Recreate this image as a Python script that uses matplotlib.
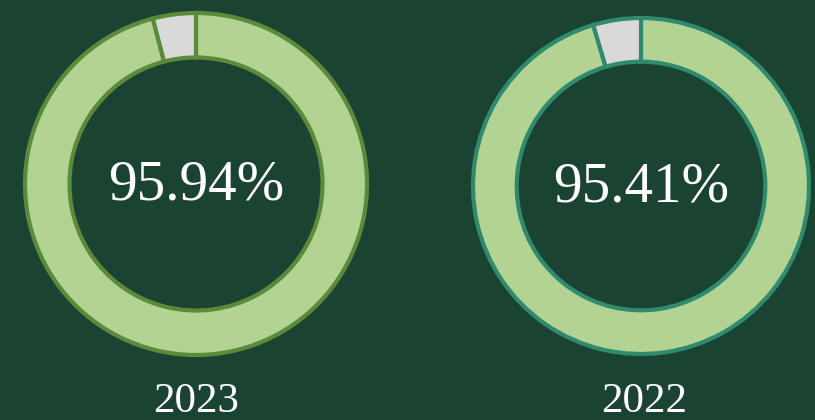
import matplotlib
matplotlib.use('Agg')
import matplotlib.pyplot as plt

years = ['2023', '2022']
pct = [95.94, 95.41]
edge_colors = ['#5b8a3a', '#2f8a6e']

BG = '#1b4332'
FILL = '#b3d393'
GREY = '#d9d9d9'

fig = plt.figure(figsize=(8.15, 4.2), dpi=100, facecolor=BG)
ax = fig.add_axes([0, 0, 1, 1])
ax.set_facecolor(BG)

# donut centres / radius in pixel coords (y measured from bottom)
centres = [(196, 420 - 184), (641, 420 - 186)]
radii = [171, 168]

for i in range(len(years)):
    vals = [pct[i], 100 - pct[i]]
    ax.pie(vals, colors=[FILL, GREY], startangle=90, counterclock=False,
           center=centres[i], radius=radii[i],
           wedgeprops=dict(width=radii[i] * 0.26, edgecolor=edge_colors[i], linewidth=3))
    ax.text(centres[i][0], centres[i][1] - 2, f'{pct[i]:.2f}%', ha='center', va='center',
            color='white', fontsize=41, family='Liberation Serif')
    # year label under each ring, baseline near the bottom edge
    ax.text(centres[i][0] + (0 if i == 0 else 3), 420 - 412, years[i], ha='center', va='baseline',
            color='white', fontsize=31, family='Liberation Serif')

ax.set_xlim(0, 815)
ax.set_ylim(0, 420)
ax.set_aspect('equal')
ax.axis('off')

plt.savefig('out.png', dpi=100, facecolor=BG)
plt.close()
